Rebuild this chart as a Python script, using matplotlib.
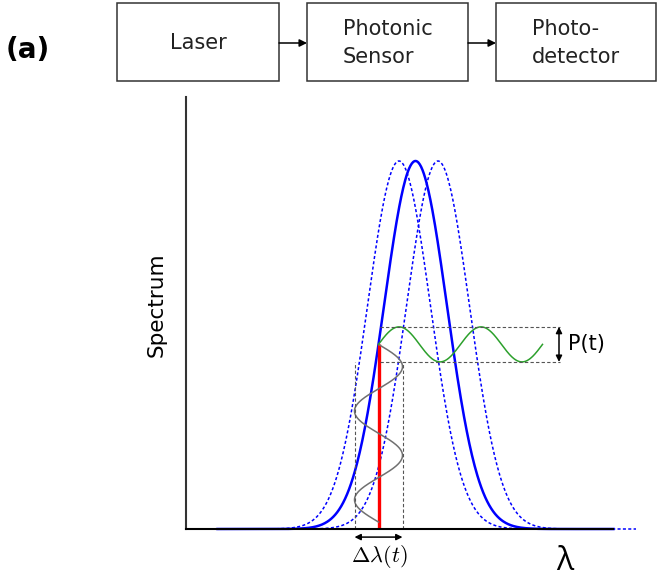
import numpy as np
import matplotlib.pyplot as plt
from matplotlib.patches import Rectangle, FancyArrowPatch

plt.rcParams['mathtext.fontset'] = 'cm'

# block diagram on top
blocks = ["Laser", "Photonic\nSensor", "Photo-\ndetector"]
block_x = [(117, 279), (307, 468), (496, 656)]
block_y = (3, 81)

# spectrum (x in axis units, peak height 1)
lam0 = 229.5           # unperturbed resonance
sigma = 31.5           # gaussian width
shifts = [-16.5, 22.5]  # shifted resonances, dotted
half_span = 198.0

# laser probe point and modulation
lam_probe = 192.5
mod_amp = 24.0          # wavelength excursion
mod_low = 0.019         # bottom end of the time trace
n_periods = 2
p_amp = 0.0476          # detected power swing
p_len = 164.0           # length of the power trace
p_end = 374.0           # right end of the P(t) guides


def gauss(x, c):
    return np.exp(-0.5 * ((x - c) / sigma) ** 2)


fig = plt.figure(figsize=(6.59, 5.76), dpi=100)

# --- block diagram ---
axd = fig.add_axes([0, 486 / 576, 1, 90 / 576])
axd.set_xlim(0, 659)
axd.set_ylim(90, 0)
axd.axis('off')
for label, (x0, x1) in zip(blocks, block_x):
    axd.add_patch(Rectangle((x0, block_y[0]), x1 - x0, block_y[1] - block_y[0],
                            fill=False, ec='#333333', lw=1.1))
    axd.text((x0 + x1) / 2, 43, label, ha='center', va='center',
             multialignment='left', linespacing=1.55, fontsize=15,
             color='#222222')
for (a0, a1), (b0, b1) in zip(block_x[:-1], block_x[1:]):
    axd.add_patch(FancyArrowPatch((a1, 43), (b0, 43), arrowstyle='-|>',
                                  mutation_scale=11, lw=1.1, color='black',
                                  shrinkA=0, shrinkB=0))
axd.text(28, 50, "(a)", ha='center', va='center', fontsize=20,
         fontweight='bold')

# --- spectrum ---
ax = fig.add_axes([186 / 659, 47 / 576, 427 / 659, 432 / 576])
ax.set_xlim(0, 427)
ax.set_ylim(0, 432 / 368)
for s in ['top', 'right']:
    ax.spines[s].set_visible(False)
ax.spines['left'].set_color('#333333')
ax.spines['left'].set_linewidth(1.5)
ax.spines['bottom'].set_color('black')
ax.spines['bottom'].set_linewidth(1.5)
ax.set_xticks([])
ax.set_yticks([])

for d in shifts:
    c = lam0 + d
    x = np.linspace(c - half_span, c + half_span, 600)
    ax.plot(x, gauss(x, c), color='blue', lw=1.1, ls=(0, (2, 1.5)),
            clip_on=False)
x = np.linspace(lam0 - half_span, lam0 + half_span, 600)
ax.plot(x, gauss(x, lam0), color='blue', lw=1.8, clip_on=False)

# probe line
p_level = gauss(lam_probe, lam0)
ax.plot([lam_probe, lam_probe], [0, p_level], color='red', lw=2.4,
        solid_capstyle='butt')

# wavelength modulation vs time (time runs downwards)
t = np.linspace(0, 1, 300)
ax.plot(lam_probe + mod_amp * np.sin(2 * np.pi * n_periods * t),
        p_level - t * (p_level - mod_low), color='#707070', lw=1.1)

# detected power vs time
s = np.linspace(0, 1, 300)
ax.plot(lam_probe + s * p_len,
        p_level + p_amp * np.sin(2 * np.pi * n_periods * s),
        color='#2ca02c', lw=1.1)

# guides
p_hi, p_lo = p_level + p_amp, p_level - p_amp
guide = dict(color='#555555', lw=0.8, ls=(0, (3, 2)))
ax.plot([lam_probe + 1, p_end], [p_hi, p_hi], **guide)
ax.plot([lam_probe + 1, p_end], [p_lo, p_lo], **guide)
for xv in (lam_probe - mod_amp, lam_probe + mod_amp):
    ax.plot([xv, xv], [0, p_lo], **guide)

# P(t) and delta lambda arrows
ax.annotate('', xy=(p_end - 1, p_hi), xytext=(p_end - 1, p_lo),
            arrowprops=dict(arrowstyle='<|-|>', color='black', lw=1.1,
                            mutation_scale=9, shrinkA=0, shrinkB=0))
ax.text(p_end + 8, p_level, "P(t)", ha='left', va='center', fontsize=15)

ax.annotate('', xy=(lam_probe - mod_amp, -0.022),
            xytext=(lam_probe + mod_amp, -0.022),
            arrowprops=dict(arrowstyle='<|-|>', color='black', lw=1.1,
                            mutation_scale=9, shrinkA=0, shrinkB=0),
            annotation_clip=False)
ax.text(lam_probe + 1, -0.074, r"$\Delta\lambda(t)$", ha='center',
        va='center', fontsize=16)

ax.text(379, -0.087, "λ", ha='center', va='center', fontsize=23,
        family=['Open Sans', 'DejaVu Sans'])
fig.text(157 / 659, 1 - 305 / 576, "Spectrum", rotation=90, ha='center',
         va='center', fontsize=15.5)

fig.savefig("out.png", dpi=100)
